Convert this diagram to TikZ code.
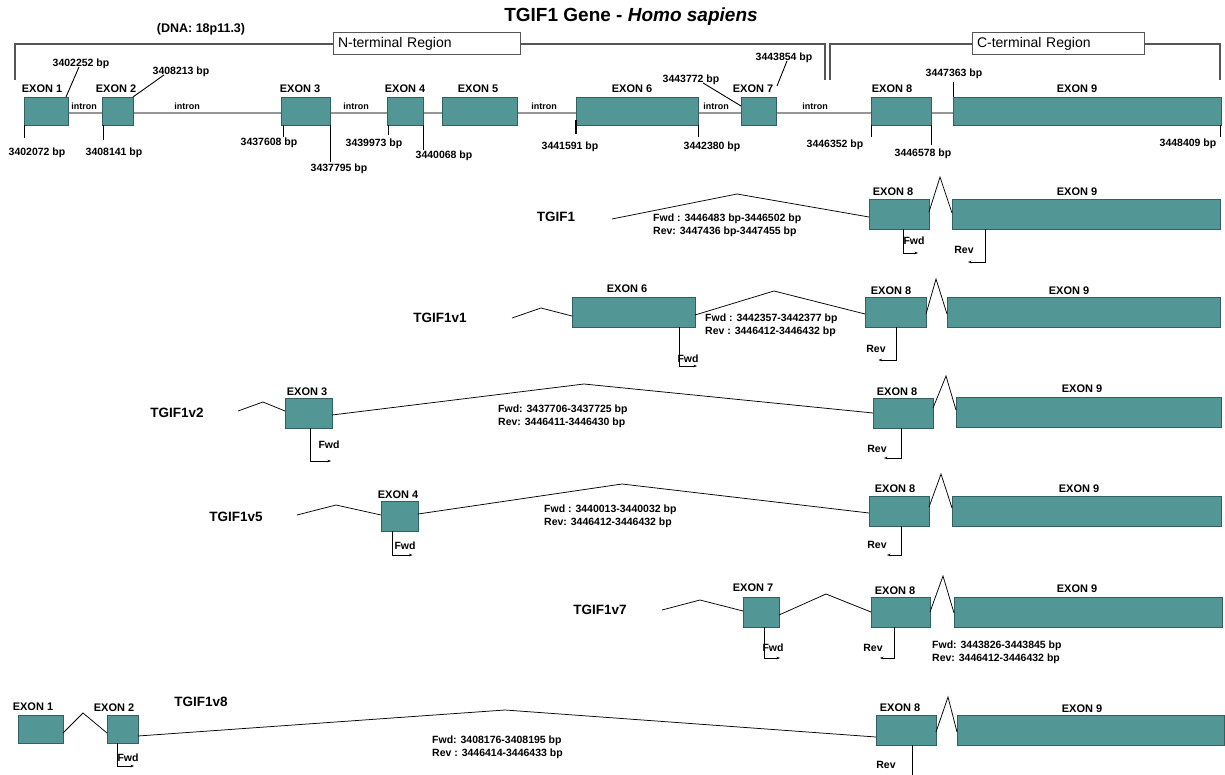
\documentclass[tikz,border=0pt]{standalone}
\usepackage{fontspec}
\setmainfont{Liberation Sans}
\usetikzlibrary{arrows.meta,backgrounds}
\definecolor{exfill}{RGB}{83,150,150}
\definecolor{exdraw}{RGB}{50,95,95}
\definecolor{brk}{RGB}{85,85,85}
\definecolor{bbone}{RGB}{150,150,150}
\tikzset{
  exon/.style={draw=exdraw, fill=exfill, line width=0.8pt, inner sep=0pt, outer sep=0pt, minimum height=30pt},
  exlab/.style={font=\bfseries\fontsize{11}{13}\selectfont, inner sep=0pt, text height=7.9pt, text depth=0pt},
  bplab/.style={font=\bfseries\fontsize{10.5}{12}\selectfont, inner sep=0pt, text height=7.5pt, text depth=0pt},
  intr/.style={font=\bfseries\fontsize{9}{10}\selectfont, inner sep=0pt, text height=6.5pt, text depth=0pt},
  plab/.style={font=\bfseries\fontsize{10.5}{12}\selectfont, inner sep=0pt, text height=7.5pt, text depth=0pt},
  ptxt/.style={font=\bfseries\fontsize{10.5}{12}\selectfont, inner sep=0pt, text height=7.5pt, text depth=0pt, anchor=west},
  tname/.style={font=\bfseries\fontsize{13.5}{15}\selectfont, inner sep=0pt, text height=9.7pt, text depth=0pt},
  splice/.style={draw=black, line width=0.75pt},
  tick/.style={draw=black, line width=0.9pt},
  primer/.style={draw=black, line width=0.75pt, -{Stealth[length=3.5pt,width=2.6pt]}},
  primerline/.style={draw=black, line width=0.75pt},
  bracket/.style={draw=brk, line width=1.2pt},
  regbox/.style={draw=brk, fill=white, line width=1pt, minimum height=22pt, inner xsep=5pt, inner ysep=0pt, align=left, font=\fontsize{14}{16}\selectfont},
}
\begin{document}
\begin{tikzpicture}[x=1pt,y=-1pt]
\useasboundingbox (0,0) rectangle (1225,775);

% ---------- title ----------
\node[font=\bfseries\fontsize{19}{22}\selectfont, inner sep=0pt] (title) at (631,17) {TGIF1 Gene - \textit{Homo sapiens}};
\node[font=\bfseries\fontsize{12.5}{14}\selectfont, inner sep=0pt] (dna) at (201,29) {(DNA: 18p11.3)};

% ---------- region brackets ----------
\node[regbox, text width=177pt] (nreg) at (426.5,44) {N-terminal Region};
\node[regbox, text width=162pt] (creg) at (1058,44) {C-terminal Region};
\coordinate (nL) at (15,80);
\coordinate (nR) at (825,80);
\coordinate (cL) at (830,80);
\coordinate (cR) at (1220,80);
\draw[bracket] (nL) |- (nreg.west);
\draw[bracket] (nreg.east) -| (nR);
\draw[bracket] (cL) |- (creg.west);
\draw[bracket] (creg.east) -| (cR);

% ---------- gene structure ----------
\node[exon, minimum width=44pt, minimum height=28pt] (g1) at (46,111) {};
\node[exon, minimum width=31pt, minimum height=28pt] (g2) at (117.5,111) {};
\node[exon, minimum width=49pt, minimum height=28pt] (g3) at (305.5,111) {};
\node[exon, minimum width=36pt, minimum height=28pt] (g4) at (405,111) {};
\node[exon, minimum width=75pt, minimum height=28pt] (g5) at (479.5,111) {};
\node[exon, minimum width=122pt, minimum height=28pt] (g6) at (637,111) {};
\node[exon, minimum width=35pt, minimum height=28pt] (g7) at (758.5,111) {};
\node[exon, minimum width=60pt, minimum height=28pt] (g8) at (901,111) {};
\node[exon, minimum width=268pt, minimum height=28pt] (g9) at (1087,111) {};
\begin{pgfonlayer}{background}
\fill[white] (0,0) rectangle (1225,775);
\draw[draw=bbone, line width=1.6pt] ([yshift=-2pt]g1.east) -- ([yshift=-2pt]g9.west);
\end{pgfonlayer}

\node[exlab] (g1l) at (42,89) {EXON 1};
\node[exlab] (g2l) at (116,89) {EXON 2};
\node[exlab] (g3l) at (300,89) {EXON 3};
\node[exlab] (g4l) at (405,89) {EXON 4};
\node[exlab] (g5l) at (478,89) {EXON 5};
\node[exlab] (g6l) at (632,89) {EXON 6};
\node[exlab] (g7l) at (753,89) {EXON 7};
\node[exlab] (g8l) at (892,89) {EXON 8};
\node[exlab] (g9l) at (1077,89) {EXON 9};

\node[intr] (i1) at (84,106) {intron};
\node[intr] (i2) at (187,106) {intron};
\node[intr] (i3) at (356,106) {intron};
\node[intr] (i4) at (544,106) {intron};
\node[intr] (i5) at (716,106) {intron};
\node[intr] (i6) at (815,106) {intron};

\node[bplab] (b1) at (81,63) {3402252 bp};
\draw[tick] ([xshift=-2pt]b1.south) -- ([xshift=-2pt]g1.north east);
\node[bplab] (b2) at (181,71) {3408213 bp};
\draw[tick] ([xshift=-17pt]b2.south) -- (g2.north east);
\node[bplab] (b3) at (37,152) {3402072 bp};
\draw[tick] (g1.south west) -- ++(0,13);
\node[bplab] (b4) at (114,152) {3408141 bp};
\draw[tick] ([xshift=1pt]g2.south west) -- ++(0,15);
\node[bplab] (b5) at (269,142) {3437608 bp};
\draw[tick] ([xshift=2pt]g3.south west) -- ++(0,12);
\node[bplab] (b6) at (339,168) {3437795 bp};
\draw[tick] (g3.south east) -- ++(0,37);
\node[bplab] (b7) at (374,143) {3439973 bp};
\draw[tick] ([xshift=1pt]g4.south west) -- ++(0,10);
\node[bplab] (b8) at (444,155) {3440068 bp};
\draw[tick] (g4.south east) -- ++(0,25);
\node[bplab] (b9) at (570,146) {3441591 bp};
\draw[tick, line width=1.6pt] ([yshift=5pt]g6.south west) -- ++(0,14);
\node[bplab] (b10) at (712,146) {3442380 bp};
\draw[tick] (g6.south east) -- ++(0,12);
\node[bplab] (b11) at (691,79) {3443772 bp};
\draw[tick] ([xshift=12pt]b11.south) -- ([yshift=-9pt]g7.north west);
\node[bplab] (b12) at (784,57) {3443854 bp};
\coordinate (b12e) at (777,86);
\draw[tick] ([xshift=3pt]b12.south) -- (b12e);
\node[bplab] (b13) at (835,144) {3446352 bp};
\draw[tick] (g8.south west) -- ++(0,12);
\node[bplab] (b14) at (923,153) {3446578 bp};
\draw[tick] (g8.south east) -- ++(0,20);
\node[bplab] (b15) at (954,73) {3447363 bp};
\draw[tick] (g9.north west) -- ++(0,-15);
\node[bplab] (b16) at (1188,143) {3448409 bp};
\draw[tick] ([xshift=-1pt]g9.south east) -- ++(0,12);

% ---------- TGIF1 ----------
\node[tname] (n1) at (556,217) {TGIF1};
\node[exon, minimum width=60pt] (a8) at (899,214) {};
\node[exon, minimum width=268pt] (a9) at (1086,214) {};
\node[exlab] (a8l) at (893,192) {EXON 8};
\node[exlab] (a9l) at (1077,192) {EXON 9};
\coordinate (a0) at (612,219);
\coordinate (ap) at (737,194);
\draw[splice] (a0) -- (ap) -- ([yshift=-3pt]a8.west);
\coordinate (az) at (940,177);
\draw[splice] ([yshift=2pt]a8.east) -- (az) -- ([yshift=1pt]a9.west);
\node[ptxt] (af) at (653,218) {Fwd : 3446483 bp-3446502 bp};
\node[ptxt] (ar) at (653,231) {Rev: 3447436 bp-3447455 bp};
\draw[primer] ([xshift=4pt]a8.south) -- ++(0,24) -- ++(15,0);
\node[plab] (afl) at (914,241) {Fwd};
\draw[primer] ([xshift=33pt]a9.south west) -- ++(0,33) -- ++(-17,0);
\node[plab] (arl) at (964,250) {Rev};

% ---------- TGIF1v1 ----------
\node[tname] (n2) at (440,318) {TGIF1v1};
\node[exon, minimum width=123pt] (c6) at (633.5,312) {};
\node[exon, minimum width=61pt] (c8) at (895.5,312) {};
\node[exon, minimum width=273pt] (c9) at (1083.5,312) {};
\node[exlab] (c6l) at (627,289) {EXON 6};
\node[exlab] (c8l) at (891,291) {EXON 8};
\node[exlab] (c9l) at (1069,291) {EXON 9};
\coordinate (c0) at (512,318);
\coordinate (cp1) at (541,308);
\draw[splice] (c0) -- (cp1) -- ([yshift=-4pt]c6.west);
\coordinate (cp2) at (774,291);
\draw[splice] ([yshift=-3pt]c6.east) -- (cp2) -- ([yshift=-2pt]c8.west);
\coordinate (cz) at (936,279);
\draw[splice] ([yshift=-2pt]c8.east) -- (cz) -- ([yshift=-2pt]c9.west);
\node[ptxt] (cf) at (705,318) {Fwd : 3442357-3442377 bp};
\node[ptxt] (cr) at (705,331) {Rev : 3446412-3446432 bp};
\draw[primer] ([xshift=-16pt]c6.south east) -- ++(0,39) -- ++(18,0);
\node[plab] (cfl) at (688,359) {Fwd};
\draw[primer] ([xshift=1pt]c8.south) -- ++(0,33) -- ++(-18,0);
\node[plab] (crl) at (876,349) {Rev};

% ---------- TGIF1v2 ----------
\node[tname] (n3) at (177,413) {TGIF1v2};
\node[exon, minimum width=47pt] (d3) at (308.5,413) {};
\node[exon, minimum width=60pt] (d8) at (903,413) {};
\node[exon, minimum width=265pt] (d9) at (1088.5,412) {};
\node[exlab] (d3l) at (307,392) {EXON 3};
\node[exlab] (d8l) at (897,392) {EXON 8};
\node[exlab] (d9l) at (1082,389) {EXON 9};
\coordinate (d0) at (238,411);
\coordinate (dp1) at (263,402);
\draw[splice] (d0) -- (dp1) -- ([yshift=2pt]d3.west);
\coordinate (dp2) at (584,384);
\draw[splice] ([yshift=-2pt]d3.east) -- (dp2) -- (d8.west);
\coordinate (dz) at (946,376);
\draw[splice] ([yshift=5pt]d8.east) -- (dz) -- ([yshift=2pt]d9.west);
\node[ptxt] (df) at (498,409) {Fwd: 3437706-3437725 bp};
\node[ptxt] (dr) at (498,422) {Rev: 3446411-3446430 bp};
\draw[primer] ([xshift=1.5pt]d3.south) -- ++(0,33) -- ++(21,0);
\node[plab] (dfl) at (329,445) {Fwd};
\draw[primer] ([xshift=-2pt]d8.south) -- ++(0,30) -- ++(-17,0);
\node[plab] (drl) at (877,449) {Rev};

% ---------- TGIF1v5 ----------
\node[tname] (n4) at (236,517) {TGIF1v5};
\node[exon, minimum width=37pt] (f4) at (399.5,516) {};
\node[exon, minimum width=60pt] (f8) at (899,511) {};
\node[exon, minimum width=269pt] (f9) at (1086.5,511) {};
\node[exlab] (f4l) at (398,495) {EXON 4};
\node[exlab] (f8l) at (895,489) {EXON 8};
\node[exlab] (f9l) at (1079,489) {EXON 9};
\coordinate (f0) at (297,515);
\coordinate (fp1) at (336,505);
\draw[splice] (f0) -- (fp1) -- ([yshift=1pt]f4.west);
\coordinate (fp2) at (622,484);
\draw[splice] ([yshift=2pt]f4.east) -- (fp2) -- ([yshift=-2pt]f8.west);
\coordinate (fz) at (941,474);
\draw[splice] ([yshift=4pt]f8.east) -- (fz) -- ([yshift=3pt]f9.west);
\node[ptxt] (ff) at (544,509) {Fwd : 3440013-3440032 bp};
\node[ptxt] (fr) at (544,522) {Rev: 3446412-3446432 bp};
\draw[primer] ([xshift=-7pt]f4.south) -- ++(0,24) -- ++(20,0);
\node[plab] (ffl) at (405,546) {Fwd};
\draw[primer] ([xshift=2pt]f8.south) -- ++(0,29) -- ++(-14,0);
\node[plab] (frl) at (877,545) {Rev};

% ---------- TGIF1v7 ----------
\node[tname] (n5) at (600,610) {TGIF1v7};
\node[exon, minimum width=36pt] (h7) at (761,612) {};
\node[exon, minimum width=59pt] (h8) at (900.5,612) {};
\node[exon, minimum width=268pt] (h9) at (1088,612) {};
\node[exlab] (h7l) at (753,588) {EXON 7};
\node[exlab] (h8l) at (895,591) {EXON 8};
\node[exlab] (h9l) at (1077,589) {EXON 9};
\coordinate (h0) at (662,610);
\coordinate (hp1) at (700,600);
\draw[splice] (h0) -- (hp1) -- ([yshift=1pt]h7.west);
\coordinate (hp2) at (826,594);
\draw[splice] ([yshift=-3pt]h7.east) -- (hp2) -- (h8.west);
\coordinate (hz) at (943,576);
\draw[splice] (h8.east) -- (hz) -- ([yshift=-1pt]h9.west);
\node[ptxt] (hf) at (932,645) {Fwd: 3443826-3443845 bp};
\node[ptxt] (hr) at (932,658) {Rev: 3446412-3446432 bp};
\draw[primer] ([xshift=3pt]h7.south) -- ++(0,31) -- ++(16,0);
\node[plab] (hfl) at (773,648) {Fwd};
\draw[primer] ([xshift=-6.5pt]h8.south) -- ++(0,31) -- ++(-14,0);
\node[plab] (hrl) at (873,648) {Rev};

% ---------- TGIF1v8 ----------
\node[tname] (n6) at (201,702) {TGIF1v8};
\node[exon, minimum width=45pt, minimum height=28pt] (k1) at (40.5,729) {};
\node[exon, minimum width=31pt, minimum height=28pt] (k2) at (122.5,729) {};
\node[exon, minimum width=60pt] (k8) at (906,730) {};
\node[exon, minimum width=267pt] (k9) at (1090.5,730) {};
\node[exlab] (k1l) at (33,707) {EXON 1};
\node[exlab] (k2l) at (114,708) {EXON 2};
\node[exlab] (k8l) at (900,708) {EXON 8};
\node[exlab] (k9l) at (1082,709) {EXON 9};
\coordinate (kp1) at (83,713);
\draw[splice] ([yshift=-4pt]k1.east) -- (kp1) -- ([yshift=-4pt]k2.west);
\coordinate (kp2) at (505,710);
\draw[splice] ([yshift=-7pt]k2.east) -- (kp2) -- ([yshift=-7pt]k8.west);
\coordinate (kz) at (948,697);
\draw[splice] ([yshift=-2pt]k8.east) -- (kz) -- ([yshift=-2pt]k9.west);
\node[ptxt] (kf) at (432,740) {Fwd: 3408176-3408195 bp};
\node[ptxt] (kr) at (432,753) {Rev : 3446414-3446433 bp};
\draw[primer] ([xshift=-5.5pt]k2.south) -- ++(0,23) -- ++(17,0);
\node[plab] (kfl) at (128,758) {Fwd};
\draw[primerline] ([xshift=6pt]k8.south) -- ++(0,31);
\node[plab] (krl) at (886,765) {Rev};
\end{tikzpicture}
\end{document}
